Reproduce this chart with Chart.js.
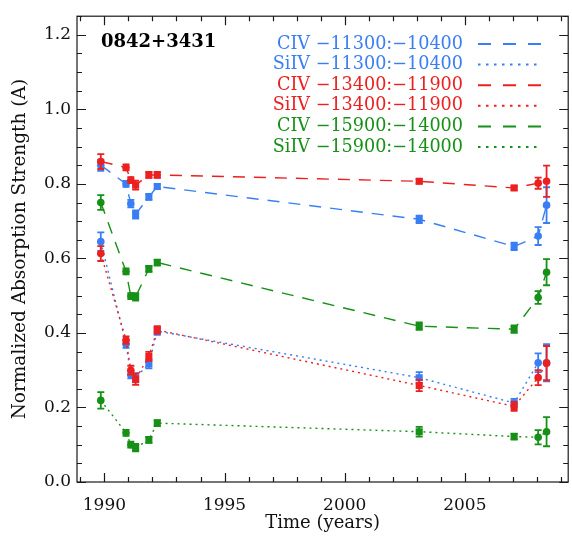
<!DOCTYPE html>
<html>
<head>
<meta charset="utf-8">
<script src="https://cdn.jsdelivr.net/npm/chart.js@4/dist/chart.umd.min.js"></script>
<style>
  html, body { margin: 0; padding: 0; background: #fff; }
  #wrap { width: 572px; height: 536px; }
</style>
</head>
<body>
<div id="wrap"><canvas id="c"></canvas></div>
<script>
// Observation epochs (decimal years)
const epochs = [1989.85, 1990.9, 1991.1, 1991.3, 1991.85, 1992.2, 2003.1, 2007.05, 2008.05, 2008.4];
const markerShapes = ['circle', 'circle', 'circle', 'rect', 'rect', 'rect', 'rect', 'rect', 'circle', 'circle'];

// Normalized absorption strength per velocity interval, with 1-sigma errors
const civA  = [0.850, 0.800, 0.747, 0.718, 0.765, 0.793, 0.705, 0.632, 0.660, 0.743];
const civAErr = [0.015, 0.008, 0.010, 0.011, 0.008, 0.006, 0.010, 0.010, 0.024, 0.048];
const siivA = [0.645, 0.370, 0.288, 0.280, 0.317, 0.405, 0.280, 0.212, 0.320, 0.320];
const siivAErr = [0.025, 0.010, 0.010, 0.012, 0.012, 0.010, 0.015, 0.011, 0.025, 0.050];
const civB  = [0.860, 0.844, 0.810, 0.797, 0.824, 0.824, 0.807, 0.789, 0.802, 0.807];
const civBErr = [0.020, 0.008, 0.008, 0.012, 0.008, 0.008, 0.006, 0.006, 0.015, 0.042];
const siivB = [0.613, 0.381, 0.300, 0.276, 0.337, 0.408, 0.259, 0.203, 0.280, 0.319];
const siivBErr = [0.020, 0.010, 0.012, 0.015, 0.012, 0.010, 0.015, 0.012, 0.020, 0.046];
const civC  = [0.750, 0.565, 0.499, 0.497, 0.572, 0.589, 0.418, 0.410, 0.495, 0.563];
const civCErr = [0.020, 0.008, 0.008, 0.010, 0.008, 0.008, 0.010, 0.010, 0.017, 0.035];
const siivC = [0.219, 0.132, 0.100, 0.092, 0.113, 0.158, 0.135, 0.122, 0.120, 0.135];
const siivCErr = [0.022, 0.008, 0.008, 0.010, 0.008, 0.008, 0.013, 0.008, 0.019, 0.039];

const seriesLabels = [
  'CIV \u221211300:\u221210400', 'SiIV \u221211300:\u221210400',
  'CIV \u221213400:\u221211900', 'SiIV \u221213400:\u221211900',
  'CIV \u221215900:\u221214000', 'SiIV \u221215900:\u221214000'
];
const objectName = '0842+3431';
const xTitle = 'Time (years)';
const yTitle = 'Normalized Absorption Strength (A)';

const BLUE = '#3a7ef5', RED = '#ec2020', GREEN = '#169016';
const DASH = { civ: [12, 9], siiv: [2, 4] };
const KEY_DASH = { civ: [13, 12], siiv: [2.5, 5.5] };

function series(label, values, errors, color, kind, order) {
  return {
    label,
    data: epochs.map((x, i) => ({ x, y: values[i] })),
    errors,
    kind,
    order,
    borderColor: color,
    backgroundColor: color,
    borderWidth: 1.4,
    borderDash: DASH[kind],
    pointStyle: markerShapes,
    pointRadius: markerShapes.map(s => s === 'rect' ? 5 : 3.8),
    pointBorderWidth: 0,
    pointHoverRadius: 0,
    tension: 0,
    fill: false
  };
}

const datasets = [
  series(seriesLabels[0], civA, civAErr, BLUE, 'civ', 3),
  series(seriesLabels[1], siivA, siivAErr, BLUE, 'siiv', 3),
  series(seriesLabels[2], civB, civBErr, RED, 'civ', 2),
  series(seriesLabels[3], siivB, siivBErr, RED, 'siiv', 2),
  series(seriesLabels[4], civC, civCErr, GREEN, 'civ', 1),
  series(seriesLabels[5], siivC, siivCErr, GREEN, 'siiv', 1)
];

const SERIF = '"DejaVu Serif", serif';

// Vertical error bars with caps, drawn right after each dataset
const errorBars = {
  id: 'errorBars',
  afterDatasetDraw(chart, args) {
    const ds = chart.data.datasets[args.index];
    if (!ds.errors) return;
    const { ctx, scales: { x, y } } = chart;
    ctx.save();
    ctx.strokeStyle = ds.borderColor;
    ctx.lineWidth = 1.8;
    ctx.setLineDash([]);
    ds.data.forEach((p, i) => {
      const e = ds.errors[i];
      const px = x.getPixelForValue(p.x);
      const y1 = y.getPixelForValue(p.y + e);
      const y2 = y.getPixelForValue(p.y - e);
      ctx.beginPath();
      ctx.moveTo(px, y1); ctx.lineTo(px, y2);
      ctx.moveTo(px - 3.5, y1); ctx.lineTo(px + 3.5, y1);
      ctx.moveTo(px - 3.5, y2); ctx.lineTo(px + 3.5, y2);
      ctx.stroke();
    });
    ctx.restore();
  }
};

// Boxed frame with inward major/minor ticks on all four sides
const frame = {
  id: 'frame',
  beforeDatasetsDraw(chart) {
    const { ctx, chartArea: a, scales: { x, y } } = chart;
    ctx.save();
    ctx.strokeStyle = '#1a1a1a';
    ctx.lineWidth = 1.2;
    ctx.strokeRect(a.left, a.top, a.right - a.left, a.bottom - a.top);
    ctx.beginPath();
    for (let yr = Math.ceil(x.min); yr <= x.max; yr++) {
      const px = Math.round(x.getPixelForValue(yr)) + 0.5;
      const L = yr % 5 === 0 ? 9 : 5;
      ctx.moveTo(px, a.bottom); ctx.lineTo(px, a.bottom - L);
      ctx.moveTo(px, a.top); ctx.lineTo(px, a.top + L);
    }
    for (let k = 0; k * 0.05 <= y.max + 1e-9; k++) {
      const py = Math.round(y.getPixelForValue(k * 0.05)) + 0.5;
      const L = k % 4 === 0 ? 9 : 5;
      ctx.moveTo(a.left, py); ctx.lineTo(a.left + L, py);
      ctx.moveTo(a.right, py); ctx.lineTo(a.right - L, py);
    }
    ctx.stroke();
    ctx.restore();
  }
};

// Object name and the coloured key with line samples
const annotations = {
  id: 'annotations',
  afterDraw(chart) {
    const { ctx, chartArea: a } = chart;
    ctx.save();
    ctx.fillStyle = '#000';
    ctx.font = 'bold 18px ' + SERIF;
    ctx.textAlign = 'left';
    ctx.textBaseline = 'middle';
    ctx.fillText(objectName, a.left + 24, 42);

    ctx.font = '17.6px ' + SERIF;
    ctx.textAlign = 'right';
    chart.data.datasets.forEach((ds, i) => {
      const yRow = 44 + i * 20.6;
      ctx.fillStyle = ds.borderColor;
      ctx.fillText(ds.label, 463, yRow);
      ctx.strokeStyle = ds.borderColor;
      ctx.lineWidth = 2;
      ctx.setLineDash(KEY_DASH[ds.kind]);
      ctx.beginPath();
      ctx.moveTo(478, yRow); ctx.lineTo(541, yRow);
      ctx.stroke();
    });
    ctx.restore();
  }
};

new Chart(document.getElementById('c'), {
  type: 'line',
  data: { datasets },
  options: {
    responsive: true,
    maintainAspectRatio: false,
    animation: false,
    events: [],
    layout: { padding: { top: 7, right: 1, left: 0, bottom: 0 } },
    plugins: { legend: { display: false }, tooltip: { enabled: false } },
    scales: {
      x: {
        type: 'linear',
        min: 1988.86,
        max: 2009.3,
        afterFit(scale) { scale.height = 54; },
        grid: { display: false, drawTicks: false },
        border: { display: false },
        ticks: {
          stepSize: 5,
          includeBounds: false,
          padding: 13,
          color: '#111',
          font: { family: SERIF, size: 17 },
          callback: v => String(v)
        },
        title: {
          display: true,
          text: xTitle,
          color: '#111',
          font: { family: SERIF, size: 18 },
          padding: { top: 0, bottom: 2 }
        }
      },
      y: {
        type: 'linear',
        min: 0,
        max: 1.25,
        afterFit(scale) { scale.width = 77; },
        grid: { display: false, drawTicks: false },
        border: { display: false },
        ticks: {
          stepSize: 0.2,
          includeBounds: false,
          padding: 6,
          color: '#111',
          font: { family: SERIF, size: 17 },
          callback: v => v.toFixed(1)
        },
        title: {
          display: true,
          text: yTitle,
          color: '#111',
          font: { family: SERIF, size: 18.5 },
          padding: { top: 9, bottom: 0 }
        }
      }
    }
  },
  plugins: [frame, errorBars, annotations]
});
</script>
</body>
</html>
